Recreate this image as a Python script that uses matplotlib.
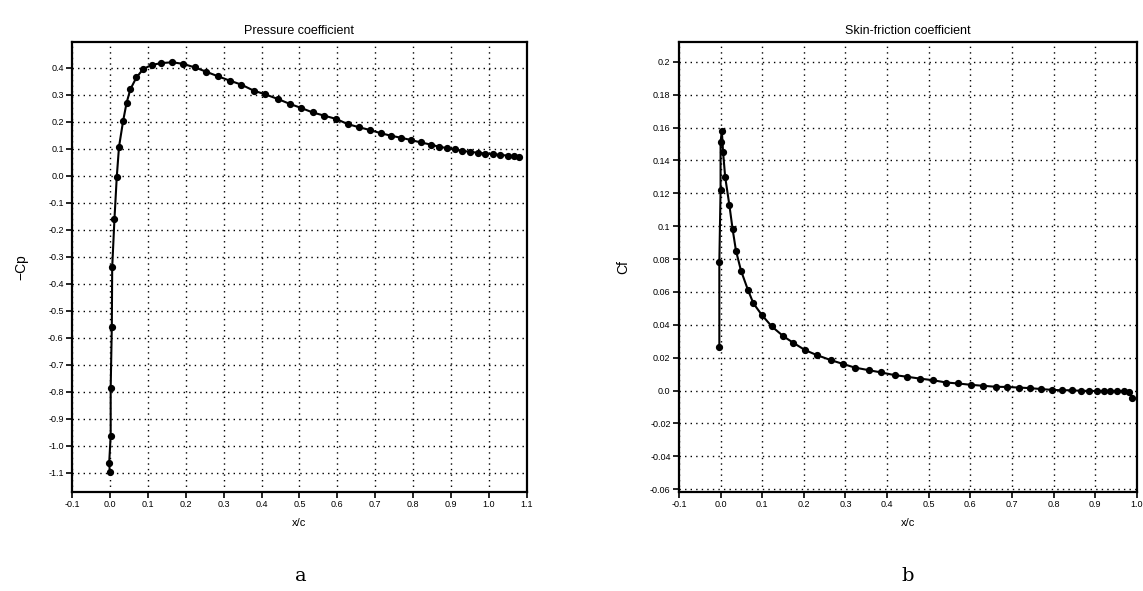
import matplotlib
matplotlib.use("Agg")
import matplotlib.pyplot as plt
import numpy as np

# ---- data: pressure coefficient (-Cp vs x/c) ----
cp_x = [0.000, -0.002, 0.002, 0.002, 0.005, 0.006, 0.012, 0.018, 0.024, 0.035,
        0.044, 0.054, 0.070, 0.088, 0.110, 0.136, 0.165, 0.193, 0.224, 0.254,
        0.285, 0.316, 0.347, 0.379, 0.408, 0.443, 0.474, 0.504, 0.535, 0.566,
        0.597, 0.627, 0.658, 0.686, 0.715, 0.741, 0.769, 0.794, 0.820, 0.847,
        0.868, 0.890, 0.910, 0.930, 0.950, 0.970, 0.990, 1.010, 1.030, 1.050,
        1.065, 1.079]
cp_y = [-1.099, -1.066, -0.963, -0.786, -0.560, -0.340, -0.160, -0.006, 0.107, 0.204,
        0.270, 0.320, 0.364, 0.395, 0.410, 0.417, 0.420, 0.414, 0.401, 0.385,
        0.368, 0.352, 0.337, 0.315, 0.302, 0.284, 0.266, 0.251, 0.234, 0.222,
        0.210, 0.191, 0.179, 0.169, 0.157, 0.148, 0.140, 0.132, 0.123, 0.115,
        0.107, 0.102, 0.097, 0.092, 0.088, 0.085, 0.082, 0.079, 0.077, 0.074,
        0.072, 0.070]

# ---- data: skin-friction coefficient (Cf vs x/c) ----
cf_x = [-0.003, -0.003, 0.000, 0.000, 0.003, 0.006, 0.011, 0.021, 0.029, 0.037,
        0.049, 0.066, 0.079, 0.099, 0.123, 0.151, 0.175, 0.203, 0.231, 0.265,
        0.294, 0.322, 0.356, 0.386, 0.418, 0.448, 0.478, 0.510, 0.542, 0.571,
        0.601, 0.631, 0.661, 0.689, 0.717, 0.743, 0.770, 0.797, 0.821, 0.845,
        0.865, 0.884, 0.904, 0.920, 0.936, 0.952, 0.968, 0.980, 0.988]
cf_y = [0.0266, 0.078, 0.122, 0.151, 0.158, 0.145, 0.130, 0.113, 0.098, 0.085,
        0.073, 0.061, 0.053, 0.046, 0.039, 0.033, 0.029, 0.0246, 0.0216, 0.0185,
        0.0162, 0.0140, 0.0124, 0.0110, 0.0094, 0.0084, 0.0073, 0.0063, 0.0049, 0.0043,
        0.0035, 0.0029, 0.0023, 0.0022, 0.0018, 0.0015, 0.0009, 0.0004, 0.0002, 0.0002,
        -0.0002, -0.0002, -0.0003, -0.0003, -0.0003, -0.0003, -0.0004, -0.0006, -0.0043]

cp_xticks = [-0.1, 0.0, 0.1, 0.2, 0.3, 0.4, 0.5, 0.6, 0.7, 0.8, 0.9, 1.0, 1.1]
cp_yticks = [0.4, 0.3, 0.2, 0.1, 0.0, -0.1, -0.2, -0.3, -0.4, -0.5, -0.6, -0.7,
             -0.8, -0.9, -1.0, -1.1]
cf_xticks = [-0.1, 0.0, 0.1, 0.2, 0.3, 0.4, 0.5, 0.6, 0.7, 0.8, 0.9, 1.0]
cf_yticks = [0.2, 0.18, 0.16, 0.14, 0.12, 0.1, 0.08, 0.06, 0.04, 0.02, 0.0,
             -0.02, -0.04, -0.06]
cf_yticklabels = ["0.2", "0.18", "0.16", "0.14", "0.12", "0.1", "0.08", "0.06",
                  "0.04", "0.02", "0.0", "-0.02", "-0.04", "-0.06"]

plt.rcParams['font.family'] = ['Liberation Sans', 'DejaVu Sans']

fig = plt.figure(figsize=(11.43, 5.91), dpi=100)
ax1 = fig.add_axes([0.063, 0.1675, 0.398, 0.7614])
ax2 = fig.add_axes([0.594, 0.1675, 0.4007, 0.7614])


def style(ax):
    for s in ax.spines.values():
        s.set_linewidth(1.6)
        s.set_color('black')
    ax.grid(True, color='black', linestyle=(0, (1, 3)), linewidth=1.0)
    ax.tick_params(direction='out', length=4, width=1.2, labelsize=6.5, pad=2)
    ax.set_axisbelow(True)


ax1.plot(cp_x, cp_y, color='black', lw=1.5, marker='o', ms=4.2)
ax1.set_xlim(-0.1, 1.1)
ax1.set_ylim(-1.172, 0.495)
ax1.set_xticks(cp_xticks)
ax1.set_xticklabels([f"{v:.1f}" for v in cp_xticks])
ax1.set_yticks(cp_yticks)
ax1.set_yticklabels([f"{v:.1f}" for v in cp_yticks])
style(ax1)
ax1.set_title("Pressure coefficient", fontsize=9, pad=6)
ax1.set_xlabel("x/c", fontsize=8, labelpad=6)
ax1.set_ylabel("\u2212Cp", fontsize=10, labelpad=14)

ax2.plot(cf_x, cf_y, color='black', lw=1.5, marker='o', ms=4.2)
ax2.set_xlim(-0.1, 1.0)
ax2.set_ylim(-0.0617, 0.212)
ax2.set_xticks(cf_xticks)
ax2.set_xticklabels([f"{v:.1f}" for v in cf_xticks])
ax2.set_yticks(cf_yticks)
ax2.set_yticklabels(cf_yticklabels)
style(ax2)
ax2.set_title("Skin-friction coefficient", fontsize=9, pad=6)
ax2.set_xlabel("x/c", fontsize=8, labelpad=6)
ax2.set_ylabel("Cf", fontsize=10, labelpad=14)

fig.text(301 / 1143, 1 - 576 / 591, "a", ha='center', va='center',
         fontsize=14, family='DejaVu Serif')
fig.text(908 / 1143, 1 - 576 / 591, "b", ha='center', va='center',
         fontsize=14, family='DejaVu Serif')

fig.savefig("out.png", dpi=100)
